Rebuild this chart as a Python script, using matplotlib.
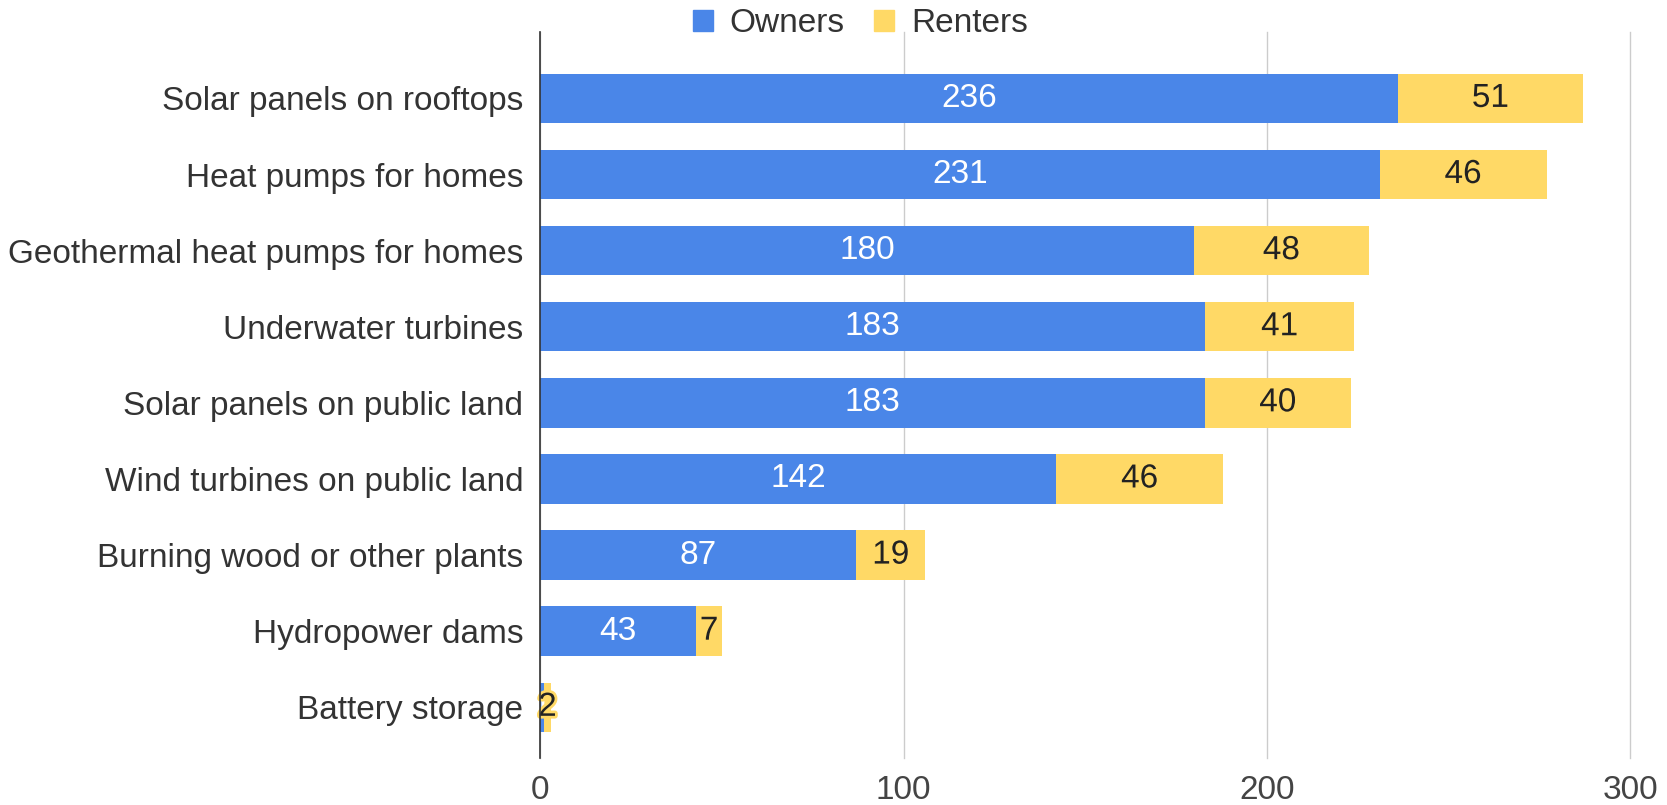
import matplotlib
matplotlib.use("Agg")
import matplotlib.pyplot as plt
from matplotlib.patches import Patch
import matplotlib.patheffects as pe

categories = ["Solar panels on rooftops", "Heat pumps for homes",
              "Geothermal heat pumps for homes", "Underwater turbines",
              "Solar panels on public land", "Wind turbines on public land",
              "Burning wood or other plants", "Hydropower dams", "Battery storage"]
owners = [236, 231, 180, 183, 183, 142, 87, 43, 1]
renters = [51, 46, 48, 41, 40, 46, 19, 7, 2]
xticks = [0, 100, 200, 300]

blue = "#4a86e8"
yellow = "#ffd966"

plt.rcParams['font.family'] = ['Liberation Sans', 'DejaVu Sans']
fig = plt.figure(figsize=(16.67, 8.05), dpi=100)
ax = fig.add_axes([0.324, 0.058, 0.654, 0.902])

y = list(range(len(categories)))
h = 0.65
ax.barh(y, owners, height=h, color=blue, zorder=3)
ax.barh(y, renters, left=owners, height=h, color=yellow, zorder=3)

fs = 24
for i in y:
    ax.text(owners[i] / 2, i, str(owners[i]), ha='center', va='center',
            color='white', fontsize=fs, zorder=4)
    ax.text(owners[i] + renters[i] / 2, i, str(renters[i]), ha='center', va='center',
            color='#222222', fontsize=fs, zorder=5,
            path_effects=[pe.withStroke(linewidth=4, foreground=yellow)])

ax.set_xlim(0, 300)
ax.set_ylim(8.67, -0.87)
ax.set_xticks(xticks)
ax.set_xticklabels([str(t) for t in xticks])
ax.set_yticks(y)
ax.set_yticklabels(categories)
ax.tick_params(axis='y', length=0, pad=12, labelsize=fs, labelcolor='#333333')
ax.tick_params(axis='x', length=0, pad=12, labelsize=fs, labelcolor='#444444')
ax.grid(axis='x', color='#cccccc', linewidth=1, zorder=0)
for gl in ax.get_xgridlines():
    gl.set_clip_on(False)
for s in ['top', 'right', 'bottom']:
    ax.spines[s].set_visible(False)
ax.spines['left'].set_color('#333333')
ax.spines['left'].set_linewidth(1.2)
ax.spines['left'].set_zorder(6)

handles = [Patch(color=blue, label='Owners'), Patch(color=yellow, label='Renters')]
fig.legend(handles=handles, loc='center', bbox_to_anchor=(0.516, 0.971), ncol=2,
           frameon=False, fontsize=fs, handlelength=0.6, handleheight=0.6,
           handletextpad=0.5, columnspacing=0.9, labelcolor='#333333')

fig.savefig("out.png", dpi=100)
